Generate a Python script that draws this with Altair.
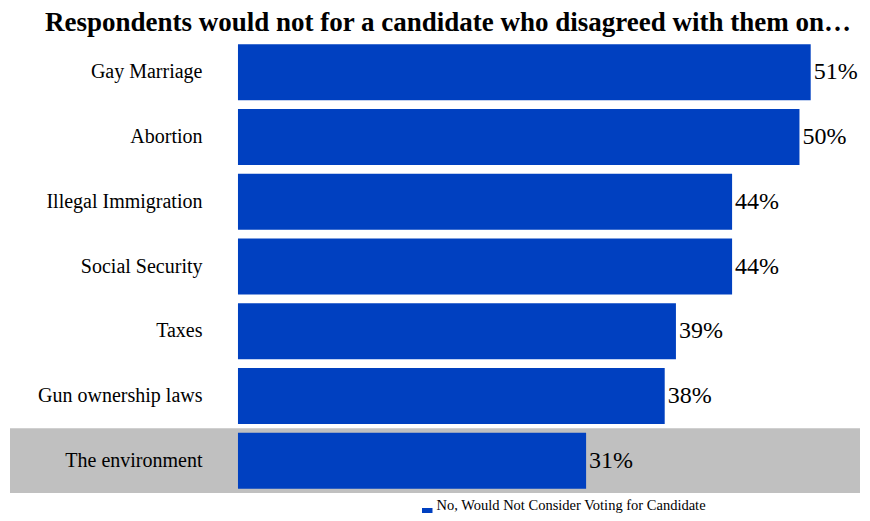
import altair as alt
import pandas as pd

categories = ["Gay Marriage", "Abortion", "Illegal Immigration", "Social Security",
              "Taxes", "Gun ownership laws", "The environment"]
values = [51, 50, 44, 44, 39, 38, 31]
series_name = "No, Would Not Consider Voting for Candidate"
highlight = ["The environment"]
title_text = "Respondents would not for a candidate who disagreed with them on\u2026"

df = pd.DataFrame({
    "issue": categories,
    "pct": values,
    "label": [f"{v}%" for v in values],
    "series": [series_name] * len(categories),
})
hl = pd.DataFrame({"issue": highlight})

PLOT_W = 850
PLOT_H = 453
STEP = PLOT_H / len(categories)
X_DOMAIN = [-20.3, 55.39]
FONT = "Liberation Serif"
BLUE = "#0040c0"
GRAY = "#c0c0c0"

y_enc = alt.Y("issue:N", sort=categories,
              scale=alt.Scale(paddingInner=0.134, paddingOuter=0.067),
              axis=alt.Axis(title=None, domain=False, ticks=False, labelFont=FONT,
                            labelFontSize=20, labelColor="black", offset=-197,
                            labelPadding=5, zindex=2, labelLimit=300))
x_scale = alt.Scale(domain=X_DOMAIN, nice=False, zero=False)

band = alt.Chart(hl).mark_bar(color=GRAY, size=STEP).encode(
    y=alt.Y("issue:N", sort=categories),
    x=alt.value(0),
    x2=alt.value(PLOT_W),
)

bars = alt.Chart(df).mark_bar(size=56).encode(
    y=y_enc,
    x=alt.X("pct:Q", scale=x_scale, axis=None),
    x2=alt.datum(0),
    color=alt.Color("series:N", scale=alt.Scale(domain=[series_name], range=[BLUE]),
                    legend=alt.Legend(title=None, orient="none", legendX=410, legendY=466,
                                      symbolType="square", symbolSize=110,
                                      symbolStrokeWidth=0, labelFont=FONT,
                                      labelFontSize=14.5, labelColor="black",
                                      labelBaseline="bottom", labelOffset=2,
                                      labelLimit=500)),
)

text = alt.Chart(df).mark_text(align="left", baseline="middle", dx=3, font=FONT,
                               fontSize=24, color="black").encode(
    y=alt.Y("issue:N", sort=categories),
    x=alt.X("pct:Q", scale=x_scale),
    text="label:N",
)

chart = alt.layer(band, bars, text).properties(
    width=PLOT_W, height=PLOT_H,
    autosize=alt.AutoSizeParams(type="none"),
    padding={"left": 2, "top": 32, "right": 2, "bottom": 20},
    title=alt.TitleParams(title_text, font=FONT, fontSize=27, fontWeight="bold",
                          color="black", anchor="middle", offset=3, dx=13),
).configure_view(stroke=None)

chart.save("out.html", embed_options={"renderer": "svg", "actions": False})
